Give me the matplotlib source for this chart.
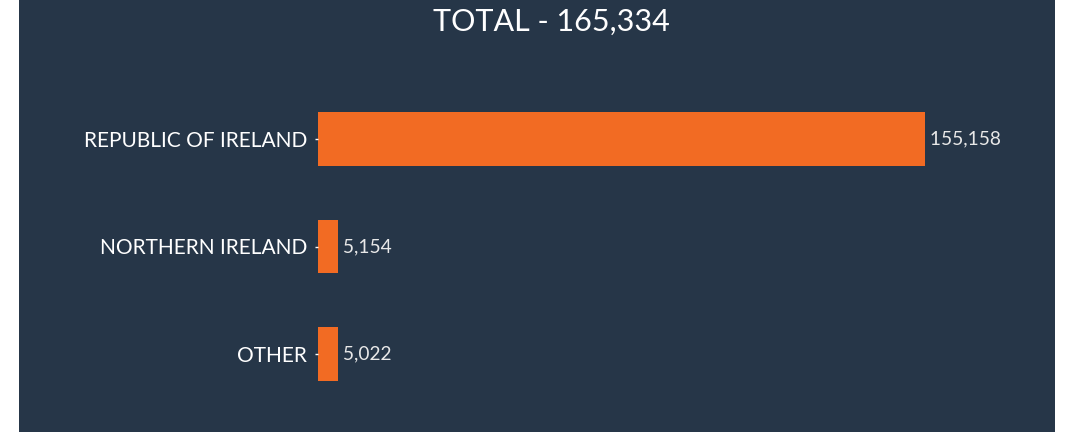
import matplotlib.pyplot as plt
from matplotlib.patches import Rectangle

# Data
categories = ["REPUBLIC OF IRELAND", "NORTHERN IRELAND", "OTHER"]
values = [155158, 5154, 5022]
total = 165334

bg = "#263648"
orange = "#F26B23"
plt.rcParams["font.family"] = ["Lato", "DejaVu Sans"]

W, H = 1065, 432
fig = plt.figure(figsize=(W / 100, H / 100), dpi=100, facecolor="white")

# dark panel
fig.patches.append(Rectangle((19 / W, 0), (1055 - 19) / W, 1, transform=fig.transFigure,
                             facecolor=bg, edgecolor="none", zorder=-5))

ax = fig.add_axes([318 / W, (432 - 408) / H, 607 / W, 323 / H])
ax.set_zorder(2)
ax.set_facecolor("none")
ax.barh(range(len(categories)), values, height=0.5, color=orange)
ax.set_xlim(0, max(values))
ax.set_ylim(len(categories) - 0.5, -0.5)
ax.set_yticks(range(len(categories)))
ax.set_yticklabels(categories, fontsize=15, color="white")
ax.tick_params(axis="y", length=2, width=1, color="white", pad=6)
ax.set_xticks([])
for s in ax.spines.values():
    s.set_visible(False)

for i, v in enumerate(values):
    ax.text(v, i, f" {v:,}", va="center", ha="left", fontsize=13.8, color="#E8E8E8")

fig.text(551 / W, 1 - 22 / H, f"TOTAL - {total:,}", ha="center", va="center",
         fontsize=22, color="white", zorder=3)

fig.savefig("out.png", dpi=100, facecolor="white")
